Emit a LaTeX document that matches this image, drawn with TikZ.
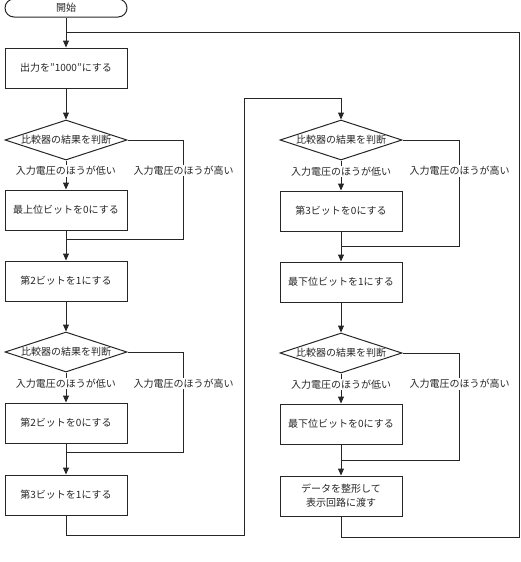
\documentclass[tikz,border=0pt]{standalone}
\usepackage{fontspec}
\setmainfont{Noto Sans CJK JP}
\usetikzlibrary{positioning,shapes.geometric,arrows.meta,calc}

\begin{document}
\begin{tikzpicture}[
				node distance=30pt,
				every node/.style={font=\fontsize{10}{14}\selectfont, text=black!85},
				terminal/.style={rectangle, rounded corners=9pt, draw=black!85, line width=1pt, minimum width=122pt, minimum height=18pt, inner sep=0pt},
				process/.style={rectangle, draw=black!85, line width=1pt, minimum width=122pt, minimum height=40pt, inner sep=0pt, align=center},
				decision/.style={diamond, draw=black!85, line width=1pt, minimum width=122pt, minimum height=40pt, inner sep=0pt},
				branch/.style={rectangle, fill=white, inner sep=1pt},
				flow/.style={draw=black!85, line width=1pt},
				arrow/.style={flow, -{Triangle[length=7pt,width=6pt]}}
			]
			\useasboundingbox (0,0) rectangle (521pt,-562pt);
			\node[terminal] (start) at (66pt,-8pt) {開始};
			\node[process] (setinit) [below=of start] {出力を"1000"にする};
			\node[decision, label=center:比較器の結果を判断] (cmpA) [below=31pt of setinit] {};
			\node[process] (msbzero) [below=29pt of cmpA] {最上位ビットを0にする};
			\node[process] (bit2one) [below=of msbzero] {第2ビットを1にする};
			\node[decision, label=center:比較器の結果を判断] (cmpB) [below=of bit2one] {};
			\node[process] (bit2zero) [below=of cmpB] {第2ビットを0にする};
			\node[process] (bit3one) [below=31pt of bit2zero] {第3ビットを1にする};
			\node[decision, label=center:比較器の結果を判断] (cmpC) [right=152pt of cmpA] {};
			\node[process] (bit3zero) [below=of cmpC] {第3ビットを0にする};
			\node[process] (lsbone) [below=of bit3zero] {最下位ビットを1にする};
			\node[decision, label=center:比較器の結果を判断] (cmpD) [below=of lsbone] {};
			\node[process] (lsbzero) [below=of cmpD] {最下位ビットを0にする};
			\node[process] (output) [below=31pt of lsbzero] {データを整形して\\表示回路に渡す};
			\coordinate (loopin) at ($(start.south)!0.5!(setinit.north)$);
			\coordinate (joinA) at ($(msbzero.south)!0.3!(bit2one.north)$);
			\coordinate (joinB) at ($(bit2zero.south)!0.3!(bit3one.north)$);
			\coordinate (joinC) at ($(bit3zero.south)!0.5!(lsbone.north)$);
			\coordinate (joinD) at ($(lsbzero.south)!0.5!(output.north)$);
			\coordinate (turnA) at ([xshift=56pt]cmpA.east);
			\coordinate (turnB) at ([xshift=56pt]cmpB.east);
			\coordinate (turnC) at ([xshift=57pt]cmpC.east);
			\coordinate (turnD) at ([xshift=57pt]cmpD.east);
			\coordinate (crossbot) at ([yshift=-20pt]bit3one.south);
			\coordinate (crosstop) at ([yshift=21pt]cmpC.north);
			\coordinate (loopbot) at ([yshift=-21pt]output.south);
			% left column
			\draw[arrow] (start) -- (setinit);
			\draw[arrow] (setinit) -- (cmpA);
			\draw[arrow] (cmpA) -- node[branch, pos=0.36] (lowA) {入力電圧のほうが低い} (msbzero);
			\draw[flow] (cmpA.east) -- (turnA) -- node[branch, pos=0.31] (highA) {入力電圧のほうが高い} (turnA |- joinA) -- (joinA);
			\draw[arrow] (msbzero) -- (bit2one);
			\draw[arrow] (bit2one) -- (cmpB);
			\draw[arrow] (cmpB) -- node[branch, pos=0.36] (lowB) {入力電圧のほうが低い} (bit2zero);
			\draw[flow] (cmpB.east) -- (turnB) -- node[branch, pos=0.31] (highB) {入力電圧のほうが高い} (turnB |- joinB) -- (joinB);
			\draw[arrow] (bit2zero) -- (bit3one);
			% across to the right column
			\draw[arrow] (bit3one.south) -- (crossbot) -- ++(178pt,0) |- (crosstop) -- (cmpC.north);
			% right column
			\draw[arrow] (cmpC) -- node[branch, pos=0.36] (lowC) {入力電圧のほうが低い} (bit3zero);
			\draw[flow] (cmpC.east) -- (turnC) -- node[branch, pos=0.29] (highC) {入力電圧のほうが高い} (turnC |- joinC) -- (joinC);
			\draw[arrow] (bit3zero) -- (lsbone);
			\draw[arrow] (lsbone) -- (cmpD);
			\draw[arrow] (cmpD) -- node[branch, pos=0.36] (lowD) {入力電圧のほうが低い} (lsbzero);
			\draw[flow] (cmpD.east) -- (turnD) -- node[branch, pos=0.29] (highD) {入力電圧のほうが高い} (turnD |- joinD) -- (joinD);
			\draw[arrow] (lsbzero) -- (output);
			% back to the start
			\draw[flow] (output.south) -- (loopbot) -- ++(178pt,0) |- (loopin);
			\end{tikzpicture}
\end{document}
